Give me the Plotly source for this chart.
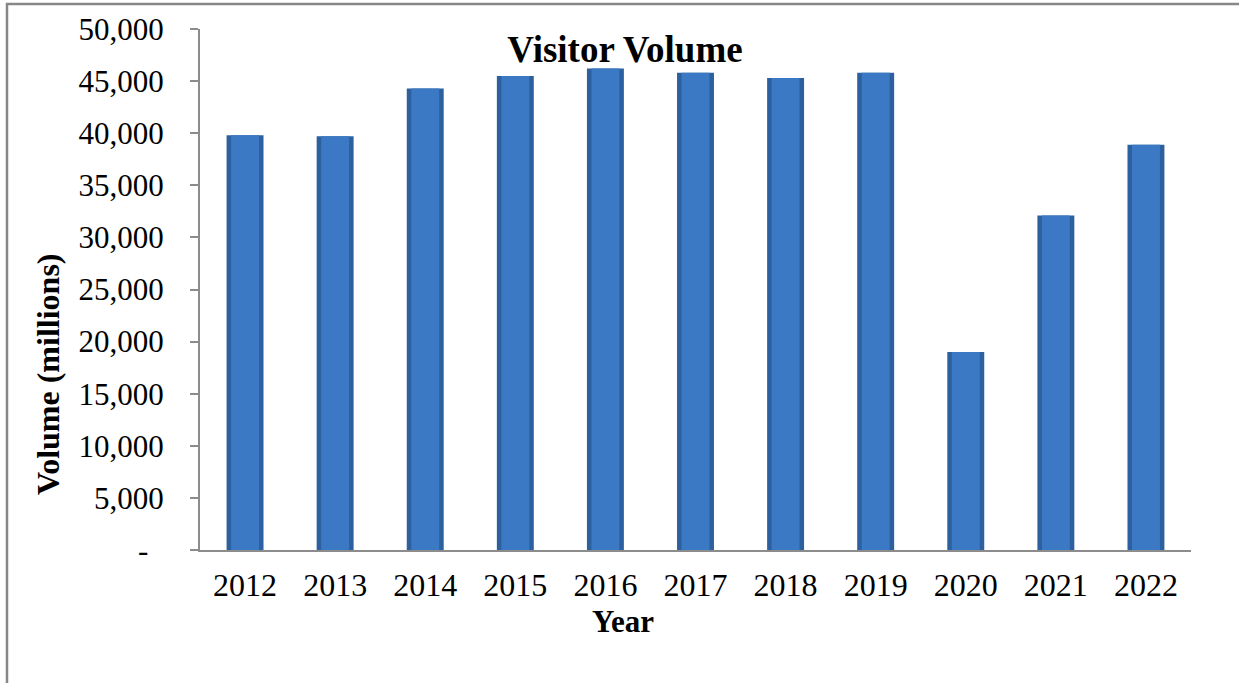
import plotly.graph_objects as go

years = ["2012", "2013", "2014", "2015", "2016", "2017", "2018", "2019", "2020", "2021", "2022"]
volume = [39800, 39700, 44300, 45500, 46200, 45800, 45300, 45800, 19000, 32100, 38900]
ytick_vals = [0, 5000, 10000, 15000, 20000, 25000, 30000, 35000, 40000, 45000, 50000]
ytick_text = ["-\u00a0\u00a0", "5,000", "10,000", "15,000", "20,000", "25,000", "30,000",
              "35,000", "40,000", "45,000", "50,000"]

FONT = "Liberation Serif"

fig = go.Figure()
fig.add_trace(go.Bar(x=years, y=volume, width=0.41,
                     marker=dict(color="#2d609f", line=dict(width=0)),
                     hoverinfo="skip", showlegend=False))
fig.add_trace(go.Bar(x=years, y=volume, width=0.31,
                     marker=dict(color="#3b79c4", line=dict(width=0)),
                     showlegend=False))

fig.update_layout(
    width=1239, height=683,
    barmode="overlay",
    plot_bgcolor="white", paper_bgcolor="white",
    margin=dict(l=200, r=48, t=29, b=133),
    font=dict(family=FONT, color="black"),
    title=dict(text="<b>Visitor Volume</b>", x=625 / 1239, xref="container",
               y=1 - 49 / 683, yref="container", xanchor="center", yanchor="middle",
               font=dict(family=FONT, size=37, color="black")),
    xaxis=dict(showline=True, linecolor="#8c8c8c", linewidth=2,
               ticks="", tickfont=dict(family=FONT, size=32),
               showgrid=False, zeroline=False, ticklabelstandoff=6),
    yaxis=dict(range=[0, 50000], tickvals=ytick_vals, ticktext=ytick_text,
               showline=True, linecolor="#8c8c8c", linewidth=2,
               ticks="outside", ticklen=8, tickcolor="#8c8c8c", tickwidth=2,
               tickfont=dict(family=FONT, size=31), showgrid=False, zeroline=False,
               ticklabelstandoff=20),
    annotations=[
        dict(text="<b>Year</b>", xref="paper", yref="paper",
             x=(623 - 200) / 991, y=(550 - 621) / 521,
             xanchor="center", yanchor="middle", showarrow=False,
             font=dict(family=FONT, size=31, color="black")),
        dict(text="<b>Volume (millions)</b>", xref="paper", yref="paper",
             x=(48 - 200) / 991, y=(550 - 374) / 521, textangle=-90,
             xanchor="center", yanchor="middle", showarrow=False,
             font=dict(family=FONT, size=32, color="black")),
    ],
    shapes=[
        dict(type="rect", xref="paper", yref="paper",
             x0=(7 - 200) / 991, x1=1.2, y0=-0.5, y1=(550 - 4) / 521,
             line=dict(color="#878787", width=2.5), fillcolor="rgba(0,0,0,0)",
             layer="below"),
    ],
)

fig.write_html("out.html")
